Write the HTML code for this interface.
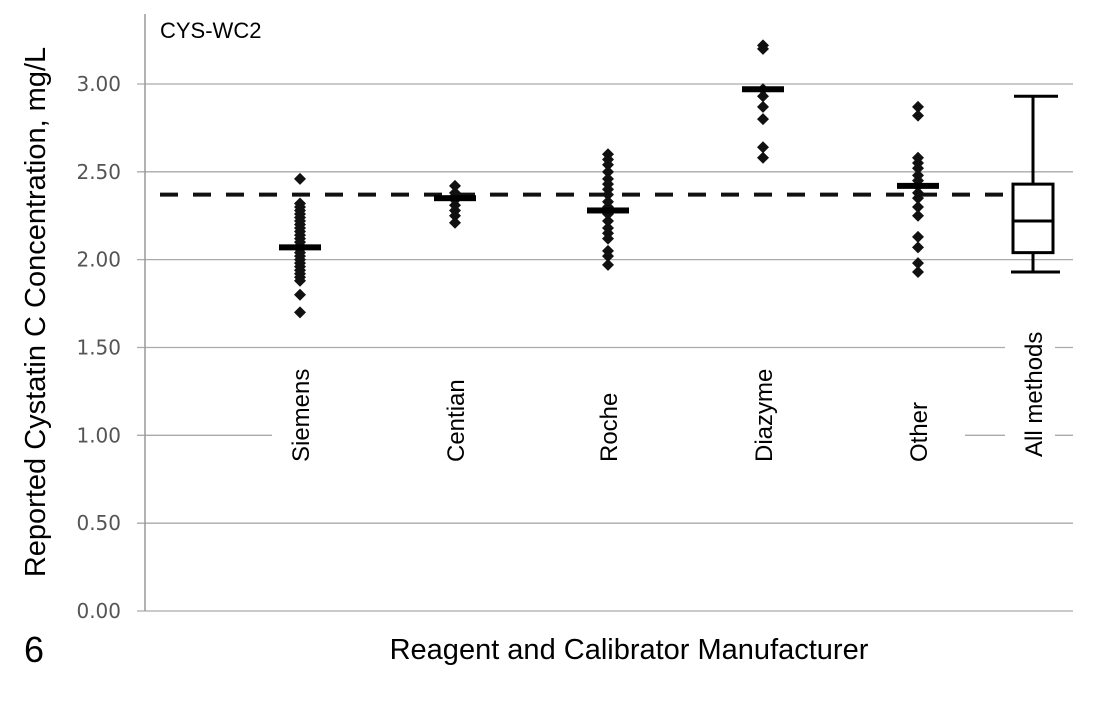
<!DOCTYPE html>
<html><head><meta charset="utf-8"><style>
body{margin:0;background:#fff;}
svg{display:block;}
</style></head><body>
<svg id="chart" width="1096" height="709" xmlns="http://www.w3.org/2000/svg" font-family="Liberation Sans, sans-serif"></svg>
<script>
const categories = ["Siemens","Centian","Roche","Diazyme","Other"];
const catX = [300,455,608,763,918];
const points = [
 [2.46,2.32,2.30,2.28,2.26,2.24,2.22,2.20,2.18,2.16,2.14,2.12,2.10,2.08,2.06,2.04,2.02,2.00,1.98,1.96,1.94,1.92,1.90,1.88,1.80,1.70],
 [2.42,2.38,2.36,2.34,2.31,2.28,2.25,2.21],
 [2.60,2.57,2.54,2.50,2.46,2.43,2.40,2.37,2.33,2.30,2.26,2.22,2.18,2.15,2.12,2.05,2.02,1.97],
 [3.22,3.20,2.97,2.93,2.87,2.80,2.64,2.58],
 [2.87,2.82,2.58,2.55,2.52,2.48,2.45,2.42,2.38,2.35,2.30,2.25,2.13,2.07,1.98,1.93]
];
const medians = [2.07,2.35,2.28,2.97,2.42];
const boxStats = [1.93,2.04,2.22,2.43,2.93];
const targetValue = 2.37;
const yTicks = [0,0.5,1,1.5,2,2.5,3];
const yTickLabels = ["0.00","0.50","1.00","1.50","2.00","2.50","3.00"];

const svg = document.getElementById('chart');
const NS = "http://www.w3.org/2000/svg";
const y = v => 611 - 175.67*v;
function mk(tag, attrs, name, text){
  const e = document.createElementNS(NS, tag);
  for (const k in attrs) e.setAttribute(k, attrs[k]);
  
  
  if (text !== undefined) e.textContent = text;
  svg.appendChild(e); return e;
}
yTicks.forEach((t,i)=>{
  mk('line',{x1:137,x2:1073,y1:y(t),y2:y(t),stroke:'#aaa','stroke-width':1.3},'gridline');
  mk('text',{x:121,y:y(t)+7,'text-anchor':'end','font-size':20,fill:'#555','font-family':'DejaVu Sans, sans-serif'},'y-tick-label',yTickLabels[i]);
});
mk('rect',{x:272,y:355,width:693,height:112,fill:'#fff'},'label-mask');
mk('rect',{x:1005,y:325,width:50,height:142,fill:'#fff'},'label-mask');
mk('line',{x1:145,x2:145,y1:14,y2:611,stroke:'#999','stroke-width':1.5},'y-axis-line');
mk('line',{x1:160,x2:1010,y1:y(targetValue),y2:y(targetValue),stroke:'#111','stroke-width':4,'stroke-dasharray':'18,15'},'target-line');
points.forEach((arr,ci)=>{
  arr.forEach(v=>{
    const cx=catX[ci], cy=y(v);
    mk('path',{d:`M${cx} ${cy-6}L${cx+6} ${cy}L${cx} ${cy+6}L${cx-6} ${cy}Z`,fill:'#111'},'data-point');
  });
  mk('rect',{x:catX[ci]-21,y:y(medians[ci])-3,width:42,height:6,fill:'#000'},'median-bar');
  mk('text',{transform:`translate(${catX[ci]+9},462) rotate(-90)`,'font-size':24},'category-label',categories[ci]);
});
const bx=1033;
mk('line',{x1:bx,x2:bx,y1:y(boxStats[4]),y2:y(boxStats[3]),stroke:'#000','stroke-width':3},'whisker-upper');
mk('line',{x1:bx,x2:bx,y1:y(boxStats[1]),y2:y(boxStats[0]),stroke:'#000','stroke-width':3},'whisker-lower');
mk('line',{x1:1014,x2:1058,y1:y(boxStats[4]),y2:y(boxStats[4]),stroke:'#000','stroke-width':3},'whisker-cap-upper');
mk('line',{x1:1011,x2:1060,y1:y(boxStats[0]),y2:y(boxStats[0]),stroke:'#000','stroke-width':3},'whisker-cap-lower');
mk('rect',{x:1013,y:y(boxStats[3]),width:40,height:y(boxStats[1])-y(boxStats[3]),fill:'#fff',stroke:'#000','stroke-width':3},'box-iqr');
mk('line',{x1:1013,x2:1053,y1:y(boxStats[2]),y2:y(boxStats[2]),stroke:'#000','stroke-width':3},'box-median');
mk('text',{transform:'translate(1042,457) rotate(-90)','font-size':24},'category-label','All methods');
mk('text',{x:160,y:38,'font-size':22},'chart-title','CYS-WC2');
mk('text',{transform:'translate(45,312) rotate(-90)','font-size':29,'text-anchor':'middle'},'y-axis-title','Reported Cystatin C Concentration, mg/L');
mk('text',{x:629,y:659,'font-size':29,'text-anchor':'middle'},'x-axis-title','Reagent and Calibrator Manufacturer');
mk('text',{x:24,y:662,'font-size':36},'figure-number','6');
</script>
</body></html>
